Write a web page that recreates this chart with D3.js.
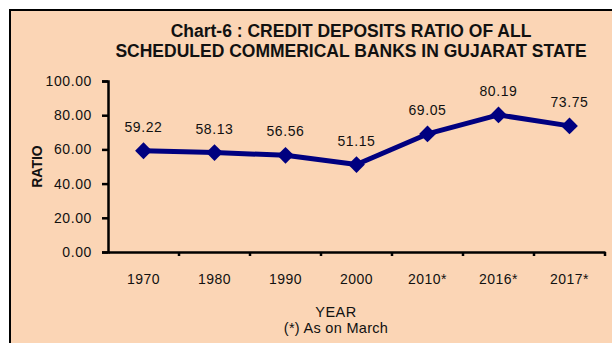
<!DOCTYPE html>
<html>
<head>
<meta charset="utf-8">
<script src="https://cdn.jsdelivr.net/npm/d3@7"></script>
<style>
  body { margin: 0; background: #fff; }
  svg { display: block; font-family: Arial, "Liberation Sans", sans-serif; }
</style>
</head>
<body>
<div id="chart"></div>
<script>
const years = ["1970", "1980", "1990", "2000", "2010*", "2016*", "2017*"];
const ratios = [59.22, 58.13, 56.56, 51.15, 69.05, 80.19, 73.75];
const yTicks = [0, 20, 40, 60, 80, 100];

const W = 612, H = 343;
const margin = {top: 81, right: 7, bottom: 91, left: 108};
const font = "Arial, 'Liberation Sans', sans-serif";

const svg = d3.select("#chart").append("svg")
  .attr("width", W)
  .attr("height", H);

// frame
svg.append("rect")
  .attr("x", 10).attr("y", 10)
  .attr("width", W).attr("height", H)
  .attr("fill", "#fbd5b5")
  .attr("stroke", "#000")
  .attr("stroke-width", 2);

// title
const title = svg.append("text")
  .attr("text-anchor", "middle")
  .attr("font-weight", "bold")
  .attr("font-size", 17.5)
  .attr("fill", "#111");
title.append("tspan").attr("x", 351).attr("y", 37).text("Chart-6 : CREDIT DEPOSITS RATIO OF ALL");
title.append("tspan").attr("x", 351).attr("y", 57).text("SCHEDULED COMMERICAL BANKS IN GUJARAT STATE");

const x = d3.scaleBand()
  .domain(years)
  .range([margin.left, W - margin.right]);

const y = d3.scaleLinear()
  .domain([0, 100])
  .range([H - margin.bottom, margin.top]);

// y axis
const yAxis = svg.append("g")
  .attr("transform", "translate(" + margin.left + ",0)")
  .call(d3.axisLeft(y).tickValues(yTicks).tickFormat(d3.format(".2f")).tickSizeOuter(0).tickSize(6).tickPadding(10));
yAxis.select(".domain").attr("stroke", "#000").attr("stroke-width", 2.5);
yAxis.selectAll(".tick line").attr("stroke", "#000").attr("stroke-width", 2.5);
yAxis.selectAll("text")
  .style("font-size", "14px")
  .style("letter-spacing", "0.6px")
  .style("font-family", font)
  .attr("fill", "#111");

// x axis
const xAxis = svg.append("g")
  .attr("transform", "translate(0," + (H - margin.bottom) + ")")
  .call(d3.axisBottom(x).tickSize(0).tickPadding(22));
xAxis.select(".domain").attr("stroke", "#000").attr("stroke-width", 2.5);
xAxis.selectAll("text")
  .style("font-size", "14px")
  .style("letter-spacing", "0.5px")
  .style("font-family", font)
  .attr("fill", "#111");

// x tick marks at category boundaries
const bounds = years.map(d => x(d) + x.bandwidth());
xAxis.selectAll(".bound")
  .data(bounds)
  .enter().append("line")
  .attr("class", "bound")
  .attr("x1", d => d).attr("x2", d => d)
  .attr("y1", 0).attr("y2", 4)
  .attr("stroke", "#000")
  .attr("stroke-width", 2.5);

// axis titles
svg.append("text")
  .attr("transform", "translate(42," + ((margin.top + H - margin.bottom) / 2) + ") rotate(-90)")
  .attr("text-anchor", "middle")
  .attr("font-weight", "bold")
  .attr("font-size", 14)
  .attr("fill", "#111")
  .text("RATIO");

svg.append("text")
  .attr("x", 336).attr("y", 317)
  .attr("text-anchor", "middle")
  .attr("font-size", 14.5)
  .attr("letter-spacing", 0.5)
  .attr("fill", "#111")
  .text("YEAR");

svg.append("text")
  .attr("x", 336).attr("y", 333)
  .attr("text-anchor", "middle")
  .attr("font-size", 14.5)
  .attr("letter-spacing", 0.3)
  .attr("fill", "#111")
  .text("(*) As on March");

// line
const cx = d => x(d) + x.bandwidth() / 2;
const pts = years.map((d, i) => [cx(d), y(ratios[i])]);

svg.append("path")
  .datum(pts)
  .attr("d", d3.line())
  .attr("fill", "none")
  .attr("stroke", "#000080")
  .attr("stroke-width", 5)
  .attr("stroke-linejoin", "round");

svg.selectAll(".marker")
  .data(pts)
  .enter().append("path")
  .attr("class", "marker")
  .attr("transform", d => "translate(" + d[0] + "," + d[1] + ")")
  .attr("d", d3.symbol().type(d3.symbolDiamond2).size(180))
  .attr("fill", "#000080");

svg.selectAll(".val")
  .data(pts)
  .enter().append("text")
  .attr("class", "val")
  .attr("x", d => d[0])
  .attr("y", d => d[1] - 19)
  .attr("text-anchor", "middle")
  .attr("font-size", 14)
  .attr("letter-spacing", 0.6)
  .attr("fill", "#111")
  .text((d, i) => ratios[i].toFixed(2));
</script>
</body>
</html>
